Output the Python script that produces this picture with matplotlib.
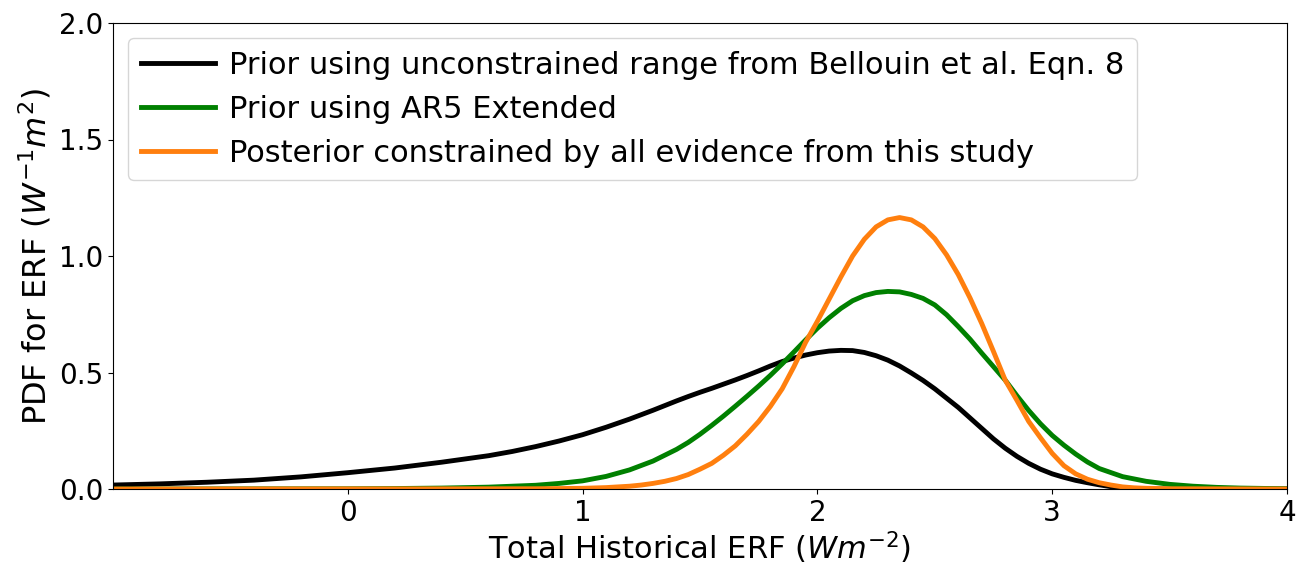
import matplotlib
matplotlib.use("Agg")
import matplotlib.pyplot as plt

x_black = [-1.0, -0.8, -0.6, -0.4, -0.2, 0.0, 0.2, 0.4, 0.6, 0.7, 0.8, 0.9, 1.0, 1.1,
           1.2, 1.3, 1.35, 1.4, 1.45, 1.5, 1.55, 1.6, 1.65, 1.7, 1.75, 1.8, 1.85, 1.9,
           1.95, 2.0, 2.05, 2.1, 2.15, 2.2, 2.25, 2.3, 2.35, 2.4, 2.45, 2.5, 2.55, 2.6, 2.65,
           2.7, 2.75, 2.8, 2.85, 2.9, 2.95, 3.0, 3.05, 3.1, 3.15, 3.2, 3.25, 3.3, 3.35, 4.0]
y_black = [0.017, 0.022, 0.029, 0.038, 0.052, 0.070, 0.090, 0.115, 0.143, 0.161, 0.182, 0.206,
           0.233, 0.265, 0.300, 0.338, 0.358, 0.378, 0.397, 0.415, 0.432, 0.450, 0.468, 0.487,
           0.507, 0.528, 0.547, 0.562, 0.575, 0.585, 0.592, 0.595, 0.594, 0.586,
           0.572, 0.553, 0.528, 0.498, 0.466, 0.430, 0.390, 0.350, 0.305, 0.260, 0.215, 0.175,
           0.140, 0.110, 0.085, 0.065, 0.050, 0.037, 0.027, 0.018, 0.010, 0.004, 0.0, 0.0]

x_green = [-1.0, 0.0, 0.2, 0.4, 0.6, 0.8, 0.9, 1.0, 1.1, 1.2, 1.3, 1.4, 1.45, 1.5, 1.55, 1.6,
           1.65, 1.7, 1.75, 1.8, 1.85, 1.9, 1.95, 2.0, 2.05, 2.1, 2.15, 2.2, 2.25, 2.3, 2.35,
           2.4, 2.45, 2.5, 2.55, 2.6, 2.65, 2.7, 2.75, 2.8, 2.85, 2.9, 2.95, 3.0, 3.05, 3.1,
           3.15, 3.2, 3.3, 3.4, 3.5, 3.6, 3.7, 3.8, 4.0]
y_green = [0.0, 0.001, 0.002, 0.004, 0.008, 0.016, 0.024, 0.035, 0.054, 0.082, 0.120, 0.170,
           0.200, 0.235, 0.273, 0.313, 0.355, 0.398, 0.442, 0.488, 0.537, 0.588, 0.640, 0.690,
           0.735, 0.775, 0.808, 0.830, 0.843, 0.848, 0.846, 0.835, 0.818, 0.790, 0.748, 0.697,
           0.643, 0.583, 0.525, 0.467, 0.400, 0.337, 0.280, 0.230, 0.188, 0.150, 0.116, 0.088,
           0.053, 0.033, 0.020, 0.012, 0.007, 0.004, 0.001]

x_orange = [-1.0, 0.8, 1.0, 1.1, 1.2, 1.25, 1.3, 1.35, 1.4, 1.45, 1.5, 1.55, 1.6, 1.65, 1.7,
            1.75, 1.8, 1.85, 1.9, 1.95, 2.0, 2.05, 2.1, 2.15, 2.2, 2.25, 2.3, 2.35, 2.4, 2.45,
            2.5, 2.55, 2.6, 2.65, 2.7, 2.75, 2.8, 2.85, 2.9, 2.95, 3.0, 3.05, 3.1, 3.15, 3.2,
            3.25, 3.3, 3.35, 3.4, 3.5, 4.0]
y_orange = [0.0, 0.001, 0.003, 0.006, 0.012, 0.017, 0.024, 0.033, 0.045, 0.062, 0.085, 0.110,
            0.145, 0.185, 0.235, 0.290, 0.355, 0.430, 0.525, 0.630, 0.720, 0.815, 0.910, 1.000,
            1.072, 1.125, 1.155, 1.165, 1.155, 1.125, 1.075, 1.005, 0.920, 0.820, 0.710, 0.590,
            0.467, 0.380, 0.290, 0.220, 0.153, 0.100, 0.065, 0.042, 0.027, 0.017, 0.009, 0.005,
            0.003, 0.001, 0.0]

labels = ["Prior using unconstrained range from Bellouin et al. Eqn. 8",
          "Prior using AR5 Extended",
          "Posterior constrained by all evidence from this study"]
colors = ["black", "green", "#ff7f0e"]
x_ticks = [0, 1, 2, 3, 4]
y_ticks = [0.0, 0.5, 1.0, 1.5, 2.0]

plt.rcParams['font.family'] = ['DejaVu Sans']
fig = plt.figure(figsize=(13.16, 5.72), dpi=100)
ax = fig.add_axes([113/1316, 1 - 489/572, (1287-113)/1316, (489-23)/572])

for xs, ys, lab, c in zip([x_black, x_green, x_orange], [y_black, y_green, y_orange], labels, colors):
    ax.plot(xs, ys, color=c, lw=3.5, label=lab, solid_joinstyle="round")

ax.set_xlim(-1, 4)
ax.set_ylim(0, 2)
ax.set_xticks(x_ticks)
ax.set_yticks(y_ticks)
ax.tick_params(labelsize=20)
ax.set_xlabel(r"Total Historical ERF ($Wm^{-2}$)", fontsize=22, labelpad=2)
ax.set_ylabel(r"PDF for ERF ($W^{-1}m^{2}$)", fontsize=23)
ax.legend(loc="upper left", fontsize=22, handlelength=2.45, handletextpad=0.45,
          borderaxespad=0.5)

fig.savefig("out.png", dpi=100)
